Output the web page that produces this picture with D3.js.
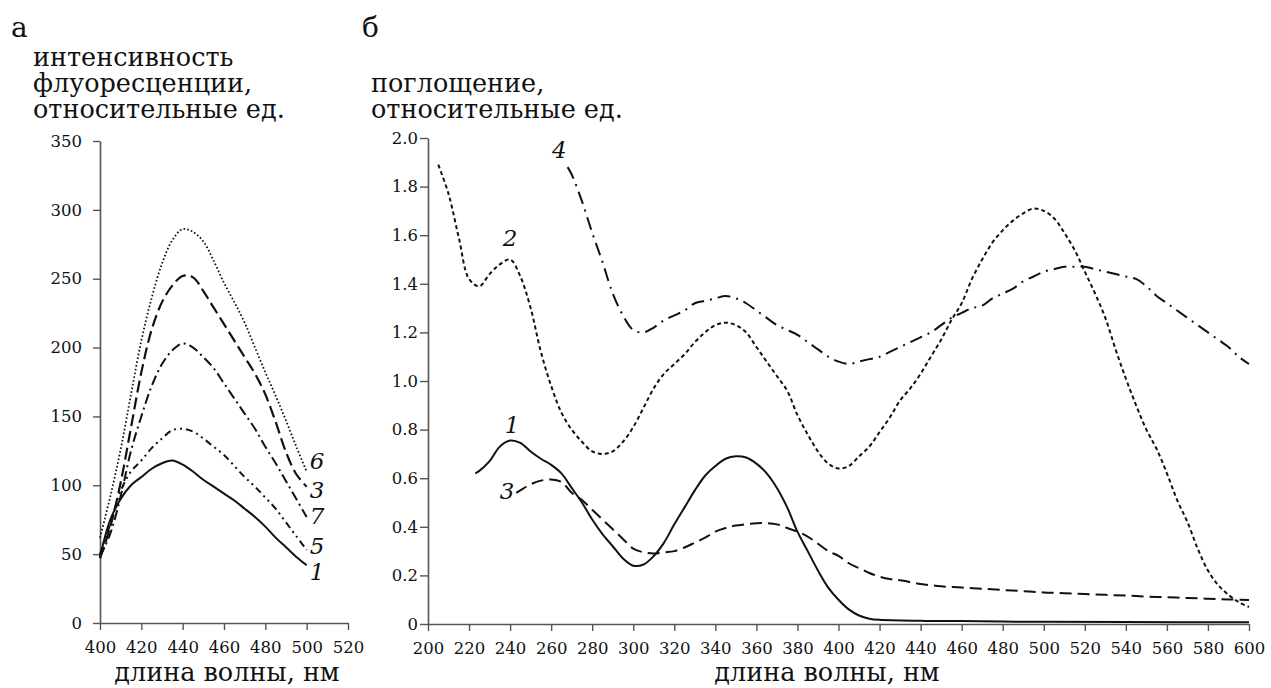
<!DOCTYPE html>
<html>
<head>
<meta charset="utf-8">
<script src="https://cdn.jsdelivr.net/npm/d3@7"></script>
<style>
  body { margin: 0; background: #fff; }
  svg text { fill: #111; font-family: "DejaVu Serif", serif; }
</style>
</head>
<body>
<svg id="chart" width="1271" height="688"></svg>
<script>
// ---- Panel а: fluorescence spectra ----
const fluorWl = [400,405,410,415,420,425,430,435,440,445,450,455,460,465,470,475,480,485,490,495,500];
const fluor1 = [48,75,90,100,106,112,116,118,115,110,104,99,94,89,83,77,70,62,55,48,42];
const fluor5 = [50,72,96,110,118,127,134,140,141,139,134,128,122,114,106,99,91,83,73,63,53];
const fluor7 = [48,65,92,125,150,172,188,198,203,200,193,185,174,163,152,141,128,116,103,90,77];
const fluor3 = [47,70,102,142,182,213,233,245,252,251,241,229,217,205,193,181,166,146,124,108,99];
const fluor6 = [62,92,126,166,205,236,261,278,286,284,277,263,247,233,218,200,182,165,147,128,110];
const fluorXTicks = [400,420,440,460,480,500,520];
const fluorYTicks = [0,50,100,150,200,250,300,350];

// ---- Panel б: absorption spectra ----
const abs1Wl = [223,225,230,235,240,245,250,255,260,265,270,275,280,285,290,295,300,305,310,315,320,325,330,335,340,345,350,355,360,365,370,375,380,385,390,395,400,405,410,415,420,440,460,480,500,540,600];
const abs1 = [0.62,0.63,0.67,0.73,0.755,0.745,0.71,0.68,0.655,0.62,0.56,0.50,0.43,0.37,0.32,0.27,0.24,0.245,0.28,0.335,0.41,0.48,0.55,0.61,0.65,0.68,0.69,0.685,0.66,0.62,0.56,0.48,0.38,0.30,0.22,0.15,0.10,0.06,0.035,0.022,0.017,0.013,0.012,0.01,0.009,0.008,0.007];

const abs2Wl = [205,210,215,220,225,230,235,240,245,250,255,260,265,270,275,280,285,290,295,300,305,310,315,320,325,330,335,340,345,350,355,360,365,370,375,380,385,390,395,400,405,410,415,420,425,430,435,440,445,450,455,460,465,470,475,480,485,490,495,500,505,510,515,520,525,530,535,540,545,550,555,560,565,570,575,580,585,590,595,600];
const abs2 = [1.89,1.77,1.59,1.42,1.39,1.44,1.48,1.50,1.43,1.30,1.12,0.98,0.87,0.80,0.75,0.71,0.70,0.71,0.75,0.81,0.89,0.97,1.03,1.07,1.11,1.16,1.20,1.23,1.24,1.23,1.20,1.14,1.08,1.02,0.96,0.86,0.78,0.71,0.66,0.64,0.65,0.69,0.73,0.79,0.85,0.92,0.97,1.03,1.10,1.17,1.25,1.32,1.42,1.50,1.57,1.62,1.66,1.69,1.71,1.70,1.67,1.61,1.54,1.45,1.36,1.26,1.13,1.01,0.90,0.80,0.72,0.62,0.51,0.42,0.31,0.22,0.16,0.12,0.09,0.07];

const abs3Wl = [243,245,250,255,260,265,270,275,280,285,290,295,300,305,310,315,320,325,330,335,340,345,350,355,360,365,370,375,380,385,390,395,400,405,410,415,420,425,430,440,450,460,470,480,490,500,510,520,530,540,550,560,570,580,590,600];
const abs3 = [0.54,0.55,0.575,0.59,0.595,0.585,0.54,0.51,0.47,0.43,0.39,0.35,0.31,0.295,0.29,0.295,0.30,0.315,0.335,0.355,0.38,0.395,0.405,0.41,0.415,0.415,0.41,0.395,0.38,0.36,0.33,0.30,0.28,0.25,0.23,0.21,0.195,0.185,0.18,0.165,0.155,0.15,0.145,0.14,0.135,0.13,0.127,0.123,0.12,0.117,0.113,0.11,0.107,0.104,0.101,0.099];

const abs4Wl = [268,270,275,280,285,290,295,300,305,310,315,320,325,330,335,340,345,350,355,360,365,370,375,380,385,390,395,400,405,410,415,420,425,430,435,440,445,450,455,460,465,470,475,480,485,490,495,500,505,510,515,520,525,530,535,540,545,550,555,560,565,570,575,580,585,590,595,600];
const abs4 = [1.88,1.85,1.74,1.61,1.49,1.36,1.27,1.21,1.20,1.22,1.25,1.27,1.29,1.32,1.33,1.34,1.35,1.34,1.32,1.29,1.26,1.23,1.21,1.19,1.16,1.13,1.10,1.08,1.07,1.08,1.09,1.10,1.12,1.14,1.16,1.18,1.20,1.23,1.26,1.28,1.30,1.31,1.34,1.36,1.38,1.41,1.43,1.45,1.46,1.47,1.47,1.47,1.46,1.45,1.44,1.43,1.42,1.39,1.35,1.32,1.29,1.26,1.23,1.20,1.17,1.14,1.10,1.07];
const absXTicks = [200,220,240,260,280,300,320,340,360,380,400,420,440,460,480,500,520,540,560,580,600];
const absYTicks = [0,0.2,0.4,0.6,0.8,1.0,1.2,1.4,1.6,1.8,2.0];

const svg = d3.select("#chart");
const axisColor = "#555";
const serif = '"DejaVu Serif", serif';
const tickFont = 16.5;
const titleFont = 25.5;

// scales
const xA = d3.scaleLinear().domain([400, 520]).range([100, 348]);
const yA = d3.scaleLinear().domain([0, 350]).range([623, 141]);
const xB = d3.scaleLinear().domain([200, 600]).range([428, 1249]);
const yB = d3.scaleLinear().domain([0, 2]).range([624, 138]);

function styleAxis(g) {
  g.attr("font-family", serif);
  g.select(".domain").attr("stroke", axisColor).attr("stroke-width", 1.6);
  g.selectAll(".tick line").attr("stroke", axisColor).attr("stroke-width", 1.4);
  g.selectAll(".tick text").attr("font-size", tickFont).attr("fill", "#222");
}

// panel а axes
svg.append("g").attr("transform", `translate(0,${yA(0)})`)
  .call(d3.axisBottom(xA).tickValues(fluorXTicks).tickSize(7).tickSizeOuter(0).tickPadding(11).tickFormat(d3.format("d")))
  .call(styleAxis);
svg.append("g").attr("transform", `translate(${xA(400)},0)`)
  .call(d3.axisLeft(yA).tickValues(fluorYTicks).tickSize(7).tickSizeOuter(0).tickPadding(11).tickFormat(d3.format("d")))
  .call(styleAxis);

// panel б axes
svg.append("g").attr("transform", `translate(0,${yB(0)})`)
  .call(d3.axisBottom(xB).tickValues(absXTicks).tickSize(7).tickSizeOuter(0).tickPadding(11).tickFormat(d3.format("d")))
  .call(styleAxis);
svg.append("g").attr("transform", `translate(${xB(200)},0)`)
  .call(d3.axisLeft(yB).tickValues(absYTicks).tickSize(8).tickSizeOuter(0).tickPadding(2)
    .tickFormat(d => d === 0 ? "0" : d.toFixed(1)))
  .call(styleAxis);

// curves
function drawCurve(xs, ys, xScale, yScale, dash, width) {
  const pts = xs.map((x, i) => [x, ys[i]]);
  const line = d3.line().x(d => xScale(d[0])).y(d => yScale(d[1])).curve(d3.curveCatmullRom.alpha(0.5));
  svg.append("path").datum(pts)
    .attr("d", line)
    .attr("fill", "none")
    .attr("stroke", "#111")
    .attr("stroke-width", width)
    .attr("stroke-dasharray", dash)
    .attr("stroke-linejoin", "round");
}

drawCurve(fluorWl, fluor1, xA, yA, null, 2);
drawCurve(fluorWl, fluor5, xA, yA, "7,4,2,4,2,4", 2);
drawCurve(fluorWl, fluor7, xA, yA, "10,4,2,4", 2);
drawCurve(fluorWl, fluor3, xA, yA, "12,5", 2.2);
drawCurve(fluorWl, fluor6, xA, yA, "1.6,2.2", 1.8);

drawCurve(abs1Wl, abs1, xB, yB, null, 2);
drawCurve(abs2Wl, abs2, xB, yB, "4,3", 2);
drawCurve(abs3Wl, abs3, xB, yB, "12,6", 2);
drawCurve(abs4Wl, abs4, xB, yB, "13,6,2,6", 2);

// curve numbers
const fluorLabels = [["6", 505, 118], ["3", 505, 97], ["7", 505, 78], ["5", 505, 56], ["1", 505, 37]];
const absLabels = [["4", 264, 1.95], ["2", 240, 1.59], ["1", 241, 0.82], ["3", 238.5, 0.55]];
function drawLabels(list, xScale, yScale) {
  svg.selectAll(null).data(list).enter().append("text")
    .attr("x", d => xScale(d[1])).attr("y", d => yScale(d[2]))
    .attr("dy", "0.36em")
    .attr("text-anchor", "middle")
    .attr("font-style", "italic")
    .attr("font-size", 23)
    .text(d => d[0]);
}
drawLabels(fluorLabels, xA, yA);
drawLabels(absLabels, xB, yB);

// panel letters
svg.append("text").attr("x", 11).attr("y", 37).attr("font-size", 28).text("а");
svg.append("text").attr("x", 362).attr("y", 37).attr("font-size", 28).text("б");

// axis titles
const yTitleA = ["интенсивность", "флуоресценции,", "относительные ед."];
svg.append("text").attr("x", 33).attr("y", 66).attr("font-size", titleFont)
  .selectAll("tspan").data(yTitleA).enter().append("tspan")
  .attr("x", 33).attr("dy", (d, i) => i === 0 ? 0 : 26).text(d => d);

const yTitleB = ["поглощение,", "относительные ед."];
svg.append("text").attr("x", 371).attr("y", 92).attr("font-size", titleFont)
  .selectAll("tspan").data(yTitleB).enter().append("tspan")
  .attr("x", 371).attr("dy", (d, i) => i === 0 ? 0 : 26).text(d => d);

const xTitle = "длина волны, нм";
svg.append("text").attr("x", 227).attr("y", 681).attr("font-size", titleFont)
  .attr("text-anchor", "middle").text(xTitle);
svg.append("text").attr("x", 827).attr("y", 681).attr("font-size", titleFont)
  .attr("text-anchor", "middle").text(xTitle);
</script>
</body>
</html>
